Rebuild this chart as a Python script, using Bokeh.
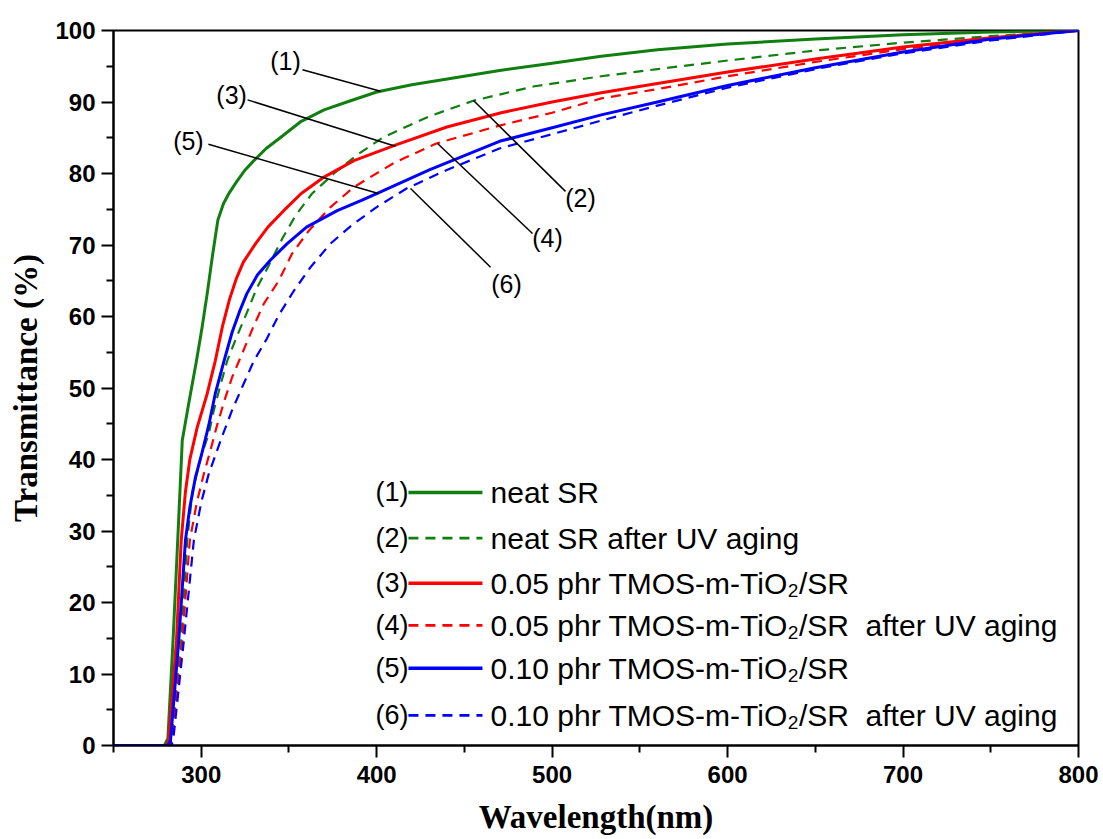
from bokeh.plotting import figure
from bokeh.models import Range1d, FixedTicker
from bokeh.embed import file_html
from bokeh.resources import INLINE
from bokeh.core.properties import value

# ---------------- data ----------------
# (1) neat SR
wl_1 = [250, 270, 279, 281, 284, 286.6, 289.2, 293, 297.3, 300.5, 303.4, 306.4, 309.5, 312.7,
        316, 320, 325, 330, 337, 345, 357, 370, 383, 400, 420, 442, 470, 499, 528, 560,
        600, 650, 700, 750, 800]
t_1 = [0, 0, 0, 1, 15, 28.7, 42.7, 48, 53.8, 58.5, 63.2, 68.5, 73.5, 75.8,
       77.3, 78.8, 80.5, 81.8, 83.5, 85, 87.3, 88.9, 90, 91.4, 92.4, 93.3, 94.4, 95.4, 96.4, 97.3,
       98.1, 98.8, 99.4, 99.8, 100]
# (2) neat SR after UV aging
wl_2 = [250, 282, 283, 288.6, 292, 295, 300, 304.3, 307.2, 310.6, 314.8, 320.1, 325.8, 331.9,
        338, 346.2, 353.7, 363.2, 375.6, 390, 404, 430, 455.4, 490, 528, 560, 600, 650, 700,
        750, 800]
t_2 = [0, 0, 0.7, 14.7, 28.7, 35.5, 40.5, 43.6, 46.9, 50.1, 53.8, 57.1, 60.4, 64.1,
       66.9, 70.9, 74.1, 77.2, 80, 82.8, 85.1, 88, 90.2, 92.2, 93.6, 94.6, 95.8, 97.2, 98.3,
       99.2, 100]
# (3) 0.05 phr TMOS-m-TiO2/SR
wl_3 = [250, 280, 281.4, 285.9, 288.6, 291, 293.5, 297.7, 303.4, 308, 312, 316, 320, 324,
        331, 338, 347, 357, 370, 387, 411, 440, 471, 500, 528, 560, 600, 650, 700, 750, 800]
t_3 = [0, 0, 0.7, 14.7, 28.7, 35.5, 40, 44.5, 49.2, 53.8, 58.5, 62.3, 65.3, 67.6,
       70.2, 72.5, 74.8, 77.2, 79.5, 81.8, 84, 86.5, 88.5, 90, 91.3, 92.6, 94.2, 96, 97.7,
       99, 100]
# (4) 0.05 phr TMOS-m-TiO2/SR after UV aging
wl_4 = [250, 282.5, 283.4, 289.2, 293.5, 297.5, 301.5, 305.5, 308.7, 313.3, 317.6, 323.3,
        329.6, 335.7, 344.2, 351.8, 361.3, 373.7, 387, 410, 434, 470, 500, 528, 560, 600, 650,
        700, 750, 800]
t_4 = [0, 0, 0.7, 14.7, 28.7, 34, 38, 41.5, 44.5, 48.3, 51.5, 54.8,
       58.5, 61.8, 65, 68.8, 72, 75.3, 78.1, 81.5, 84.2, 86.7, 88.5, 90.5, 91.8, 93.6, 95.6,
       97.4, 98.9, 100]
# (5) 0.10 phr TMOS-m-TiO2/SR
wl_5 = [250, 281, 282.5, 287.2, 291, 293.5, 296.7, 300.5, 304.3, 308, 313, 317.6, 322, 326,
        332, 339.5, 349, 360, 377.5, 391, 400, 430, 470, 500, 528, 560, 600, 650, 700, 750, 800]
t_5 = [0, 0, 0.7, 14.7, 28.7, 33.3, 37.5, 41, 44.8, 49.2, 53.8, 57.8, 60.8, 63.2,
       65.8, 67.9, 70.2, 72.5, 74.8, 76.2, 77.2, 80.5, 84.5, 86.4, 88.2, 90, 92.3, 94.8, 97,
       98.8, 100]
# (6) 0.10 phr TMOS-m-TiO2/SR after UV aging
wl_6 = [250, 283, 284, 290.1, 295.8, 300, 304.3, 308.1, 312, 317.6, 323.3, 330, 337.2, 344.2,
        352.8, 362.3, 373.7, 386, 400, 417, 440, 470, 500, 528, 560, 600, 650, 700, 750, 800]
t_6 = [0, 0, 0.7, 14.7, 28.7, 34, 38, 40.6, 43.3, 46.9, 50.1, 53.8, 56.8, 60.2,
       63.6, 66.9, 70.2, 72.8, 75.3, 77.9, 80.5, 83.5, 85.5, 87.4, 89.5, 92, 94.6, 96.8, 98.6, 100]

series_ids = ["(1)", "(2)", "(3)", "(4)", "(5)", "(6)"]
series_names = ["neat SR", "neat SR after UV aging", "0.05 phr TMOS-m-TiO\u2082/SR",
                "0.05 phr TMOS-m-TiO\u2082/SR\u00a0 after UV aging", "0.10 phr TMOS-m-TiO\u2082/SR",
                "0.10 phr TMOS-m-TiO\u2082/SR\u00a0 after UV aging"]
x_ticks = [300, 400, 500, 600, 700, 800]
x_minor = [250, 350, 450, 550, 650, 750]
y_ticks = [0, 10, 20, 30, 40, 50, 60, 70, 80, 90, 100]
y_minor = [5, 15, 25, 35, 45, 55, 65, 75, 85, 95]

# callout annotations: label position and leader line (data units)
call_x = [348.0, 516.2, 317.3, 497.4, 292.7, 474.0]
call_y = [95.8, 76.6, 91.0, 71.0, 84.6, 64.6]
lead_x0 = [357.7, 507.6, 326.4, 488.8, 304.1, 464.9]
lead_y0 = [94.5, 77.5, 90.3, 71.6, 84.1, 66.9]
lead_x1 = [402.2, 455.2, 410.7, 434.7, 401.0, 419.3]
lead_y1 = [91.5, 90.2, 83.8, 84.2, 77.2, 77.9]

# legend layout (data units)
leg_rows = [35.4, 29.0, 22.7, 16.8, 10.8, 4.2]
leg_id_x = 418.1
leg_line_x0 = 418.1
leg_line_x1 = 460.3
leg_text_x = 464.9

GREEN = "#107f10"
RED = "#ff0000"
BLUE = "#0000ff"
colors = [GREEN, GREEN, RED, RED, BLUE, BLUE]
dashes = ["solid", "10 7", "solid", "10 7", "solid", "10 7"]
widths = [3, 2.2, 3, 2.2, 3, 2.2]

p = figure(width=1103, height=839, output_backend="svg", toolbar_location=None,
           x_range=Range1d(250, 800), y_range=Range1d(0, 100),
           min_border_left=113, min_border_right=25, min_border_top=30, min_border_bottom=94)
p.background_fill_color = "white"
p.border_fill_color = "white"
p.xgrid.visible = False
p.ygrid.visible = False
p.outline_line_color = "black"
p.outline_line_width = 2
p.outline_line_alpha = 1

xs = [wl_1, wl_2, wl_3, wl_4, wl_5, wl_6]
ys = [t_1, t_2, t_3, t_4, t_5, t_6]
for i in range(6):
    p.line(xs[i], ys[i], line_color=colors[i], line_width=widths[i], line_dash=dashes[i],
           line_join="round")

# callouts
p.segment(lead_x0, lead_y0, lead_x1, lead_y1, line_color="black", line_width=1.5)
p.text(call_x, call_y, text=series_ids, text_font=value("Liberation Sans"),
       text_font_size="25px", text_align="center", text_baseline="middle", text_color="black")

# legend
for i in range(6):
    p.segment([leg_line_x0], [leg_rows[i]], [leg_line_x1], [leg_rows[i]],
              line_color=colors[i], line_width=widths[i] + 0.5, line_dash=dashes[i])
p.text([leg_id_x] * 6, leg_rows, text=series_ids, text_font=value("Liberation Sans"),
       text_font_size="27px", text_align="right", text_baseline="middle", text_color="black")
p.text([leg_text_x] * 6, leg_rows, text=series_names, text_font=value("Liberation Sans"),
       text_font_size="30px", text_align="left", text_baseline="middle", text_color="black")

for ax, tk, mn in ((p.xaxis[0], x_ticks, x_minor), (p.yaxis[0], y_ticks, y_minor)):
    ax.ticker = FixedTicker(ticks=tk, minor_ticks=mn)
    ax.axis_line_width = 2
    ax.axis_line_color = "black"
    ax.major_tick_line_width = 2
    ax.minor_tick_line_width = 2
    ax.major_tick_in = 0
    ax.major_tick_out = 12
    ax.minor_tick_in = 0
    ax.minor_tick_out = 7
    ax.major_label_text_font = "Liberation Sans"
    ax.major_label_text_font_style = "bold"
    ax.major_label_text_font_size = "24px"
    ax.major_label_text_color = "black"
    ax.axis_label_text_font = "Liberation Serif"
    ax.axis_label_text_font_style = "bold"
    ax.axis_label_text_font_size = "33px"
    ax.axis_label_text_color = "black"

p.xaxis.axis_label = "Wavelength(nm)"
p.yaxis.axis_label = "Transmittance (%)"
p.xaxis.major_label_standoff = 8
p.yaxis.major_label_standoff = 6
p.xaxis.axis_label_standoff = 13
p.yaxis.axis_label_standoff = 8

open("out.html", "w").write(file_html(p, INLINE))
